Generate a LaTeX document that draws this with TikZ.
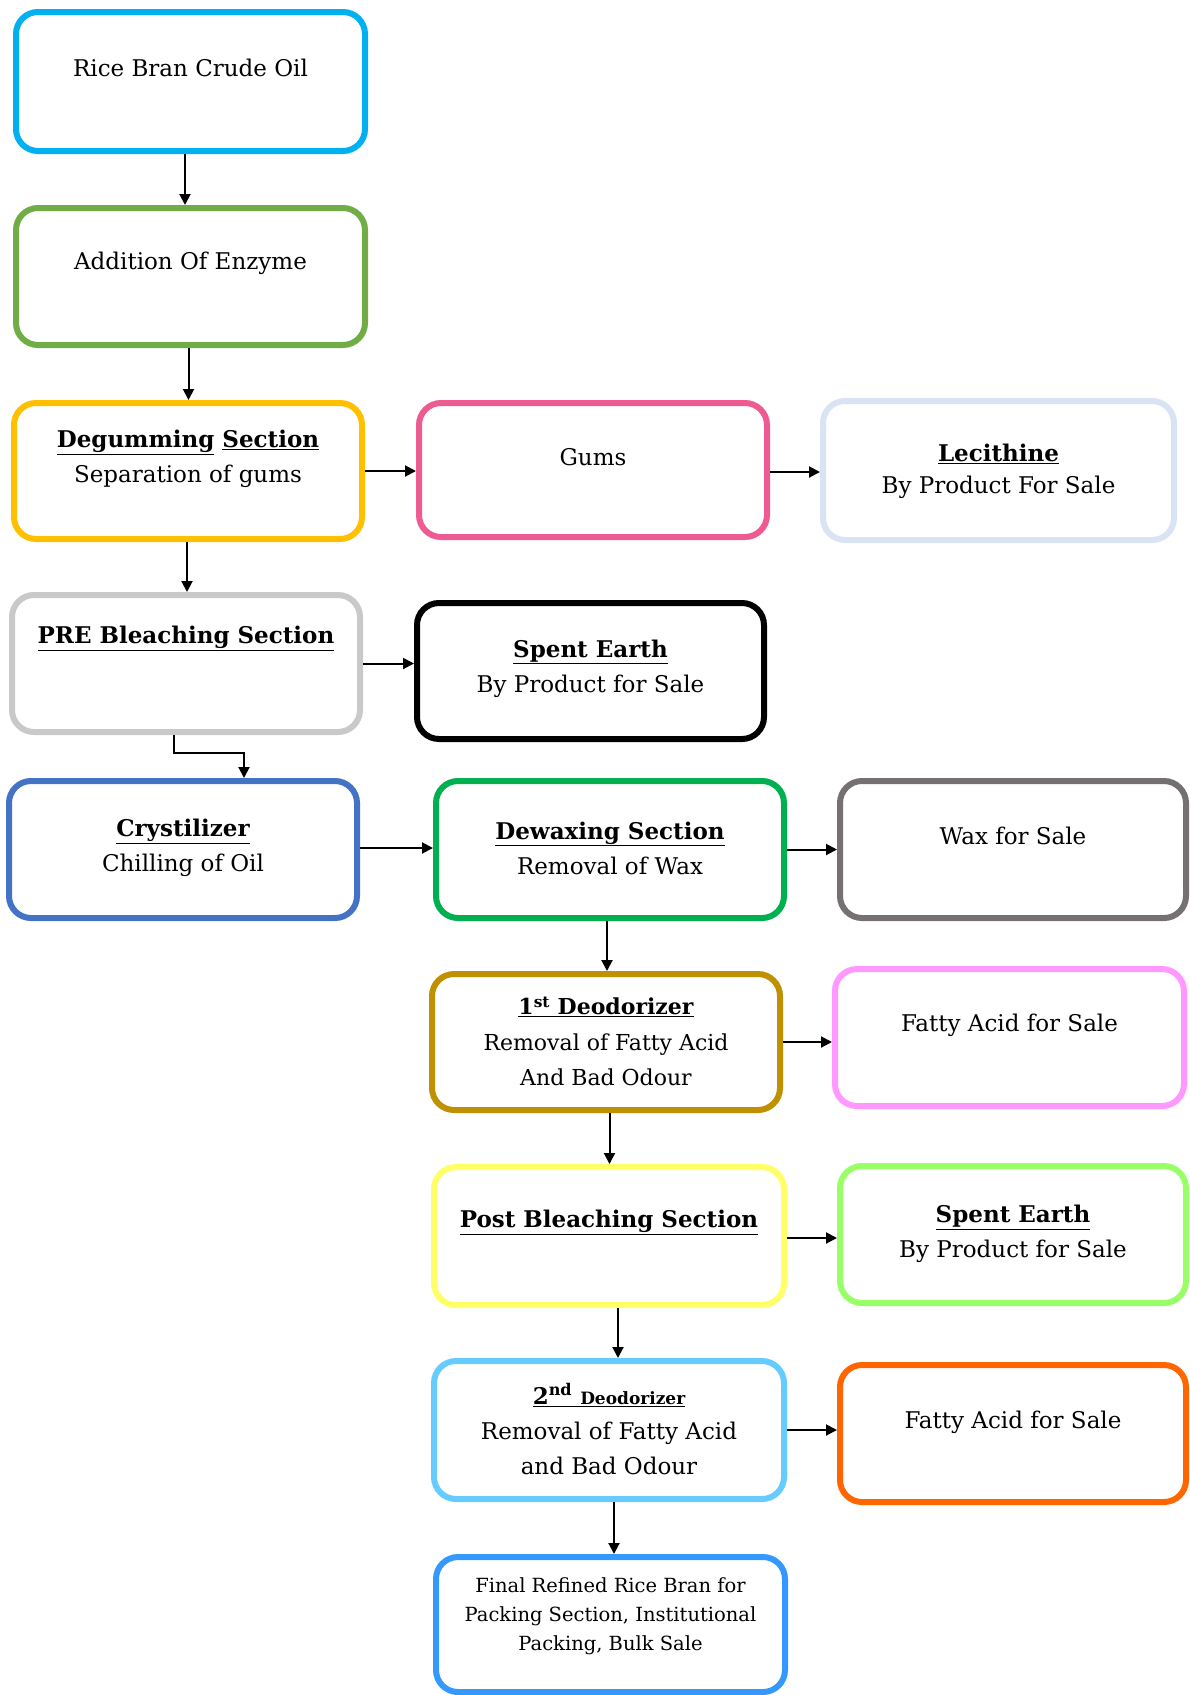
\documentclass[tikz,border=0pt]{standalone}
\usepackage{fontspec}
\setmainfont{DejaVu Serif}
\usetikzlibrary{arrows.meta}
\definecolor{cA}{HTML}{00B0F0}
\definecolor{cB}{HTML}{70AD47}
\definecolor{cC}{HTML}{FFC000}
\definecolor{cGum}{HTML}{EE5A92}
\definecolor{cLec}{HTML}{DAE3F3}
\definecolor{cPre}{HTML}{C9C9C9}
\definecolor{cSE}{HTML}{000000}
\definecolor{cCry}{HTML}{4472C4}
\definecolor{cDew}{HTML}{00B050}
\definecolor{cWax}{HTML}{767171}
\definecolor{cDa}{HTML}{BF9000}
\definecolor{cFa}{HTML}{FF99FF}
\definecolor{cPost}{HTML}{FFFF66}
\definecolor{cSEb}{HTML}{99FF66}
\definecolor{cDb}{HTML}{66CCFF}
\definecolor{cFb}{HTML}{FF6600}
\definecolor{cFin}{HTML}{3399FF}
\newcommand{\hd}[1]{{\bfseries #1}}
\newcommand{\ul}[1]{\underline{#1}}
\begin{document}
\begin{tikzpicture}[x=1pt,y=-1pt,
  box/.style={draw, line width=6pt, rounded corners=22pt, inner sep=0pt},
  txt/.style={font=\fontsize{23}{35}\selectfont, align=center, inner sep=0pt},
  arr/.style={-{Triangle[length=11pt,width=11pt]}, line width=2pt}]
\useasboundingbox (0,0) rectangle (1189,1695);
% boxes
\node[box, draw=cA, minimum width=349pt, minimum height=139pt] (b1) at (190.5,81.5) {};
\node[box, draw=cB, minimum width=349pt, minimum height=137pt] (b2) at (190.5,276.5) {};
\node[box, draw=cC, minimum width=348pt, minimum height=136pt] (b3) at (188,471) {};
\node[box, draw=cGum, minimum width=348pt, minimum height=134pt] (gum) at (593,470) {};
\node[box, draw=cLec, minimum width=351pt, minimum height=139pt] (lec) at (998.5,470.5) {};
\node[box, draw=cPre, minimum width=348pt, minimum height=137pt] (pre) at (186,663.5) {};
\node[box, draw=cSE, minimum width=347pt, minimum height=136pt] (se1) at (590.5,671) {};
\node[box, draw=cCry, minimum width=348pt, minimum height=137pt] (cry) at (183,849.5) {};
\node[box, draw=cDew, minimum width=348pt, minimum height=137pt] (dew) at (610,849.5) {};
\node[box, draw=cWax, minimum width=346pt, minimum height=137pt] (wax) at (1013,849.5) {};
\node[box, draw=cDa, minimum width=348pt, minimum height=136pt] (d1) at (606,1042) {};
\node[box, draw=cFa, minimum width=349pt, minimum height=137pt] (fa1) at (1009.5,1037.5) {};
\node[box, draw=cPost, minimum width=350pt, minimum height=138pt] (post) at (609,1236) {};
\node[box, draw=cSEb, minimum width=346pt, minimum height=137pt] (se2) at (1013,1234.5) {};
\node[box, draw=cDb, minimum width=350pt, minimum height=138pt] (d2) at (609,1430) {};
\node[box, draw=cFb, minimum width=346pt, minimum height=137pt] (fa2) at (1013,1433.5) {};
\node[box, draw=cFin, minimum width=349pt, minimum height=135pt] (fin) at (610.5,1624.5) {};
% texts
\node[txt] (t1) at (190.5,68) {Rice Bran Crude Oil};
\node[txt] (t2) at (190.5,263) {Addition Of Enzyme};
\node[txt] (t3) at (188,458.5) {\hd{\ul{Degumming} \ul{Section}}\\Separation of gums};
\node[txt] (tgum) at (593,457) {Gums};
\node[txt, font=\fontsize{23}{32}\selectfont] (tlec) at (998.5,471) {\hd{\ul{Lecithine}}\\By Product For Sale};
\node[txt] (tpre) at (186,638) {\hd{\ul{PRE Bleaching Section}}};
\node[txt] (tse1) at (590.5,668.5) {\hd{\ul{Spent Earth}}\\By Product for Sale};
\node[txt] (tcry) at (183,848) {\hd{\ul{Crystilizer}}\\Chilling of Oil};
\node[txt] (tdew) at (610,848) {\hd{\ul{Dewaxing Section}}\\Removal of Wax};
\node[txt] (twax) at (1013,836) {Wax for Sale};
\node[txt, font=\fontsize{22}{35.5}\selectfont] (td1) at (606,1041.5) {\hd{\ul{1\textsuperscript{st} Deodorizer}}\\Removal of Fatty Acid\\And Bad Odour};
\node[txt] (tfa1) at (1009.5,1025) {Fatty Acid for Sale};
\node[txt] (tpost) at (609,1222) {\hd{\ul{Post Bleaching Section}}};
\node[txt] (tse2) at (1013,1234) {\hd{\ul{Spent Earth}}\\By Product for Sale};
\node[txt] (td2) at (609,1429) {\hd{\ul{2\textsuperscript{nd} {\fontsize{17}{20}\selectfont Deodorizer}}}\\Removal of Fatty Acid\\and Bad Odour};
\node[txt] (tfa2) at (1013,1422) {Fatty Acid for Sale};
\node[txt, font=\fontsize{19.5}{29}\selectfont] (tfin) at (610.5,1616) {Final Refined Rice Bran for\\Packing Section, Institutional\\Packing, Bulk Sale};
% connectors
\draw[arr] ([xshift=-5.5pt]b1.south) -- ([xshift=-5.5pt]b1.south |- b2.north);
\draw[arr] ([xshift=-2pt]b2.south) -- ([xshift=-2pt]b2.south |- b3.north);
\draw[arr] ([xshift=-1pt]b3.south) -- ([xshift=-1pt]b3.south |- pre.north);
\draw[arr] (b3.east) -- (b3.east -| gum.west);
\draw[arr] ([yshift=-2pt]gum.east) -- ([yshift=-2pt]gum.east -| lec.west);
\draw[arr] (pre.east) -- (pre.east -| se1.west);
\coordinate (e1) at ([xshift=-12pt]pre.south |- 0,753);
\draw[arr] ([xshift=-12pt]pre.south) -- (e1) -- (e1 -| 244,0) -- (244,0 |- cry.north);
\draw[arr] ([yshift=1.5pt]cry.east) -- ([yshift=1.5pt]cry.east -| dew.west);
\draw[arr] (dew.east) -- (dew.east -| wax.west);
\draw[arr] ([xshift=-3pt]dew.south) -- ([xshift=-3pt]dew.south |- d1.north);
\draw[arr] (d1.east) -- (d1.east -| fa1.west);
\draw[arr] ([xshift=3.5pt]d1.south) -- ([xshift=3.5pt]d1.south |- post.north);
\draw[arr] ([yshift=-2pt]post.east) -- ([yshift=-2pt]post.east -| se2.west);
\draw[arr] ([xshift=9pt]post.south) -- ([xshift=9pt]post.south |- d2.north);
\draw[arr] (d2.east) -- (d2.east -| fa2.west);
\draw[arr] ([xshift=5pt]d2.south) -- ([xshift=5pt]d2.south |- fin.north);
\end{tikzpicture}
\end{document}
